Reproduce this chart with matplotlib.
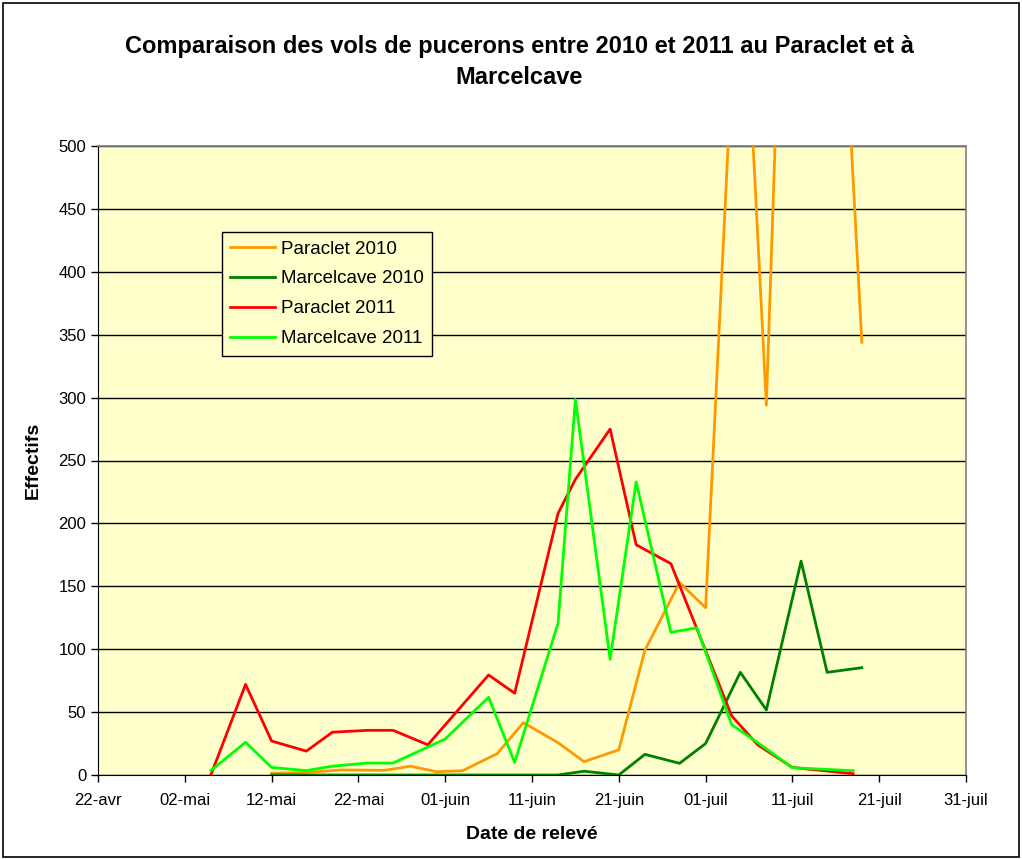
import matplotlib
matplotlib.use("Agg")
import matplotlib.pyplot as plt
import matplotlib.patches as mpatches
import pandas as pd

plt.rcParams['font.family'] = ['Liberation Sans', 'DejaVu Sans']

# ---- data (dates shown on a common calendar axis) ----
paraclet_2010_dates = ["05-12", "05-16", "05-20", "05-25", "05-28", "05-31", "06-03", "06-07",
                       "06-10", "06-14", "06-17", "06-21", "06-24", "06-28", "07-01", "07-05",
                       "07-08", "07-12", "07-15", "07-19"]
paraclet_2010 = [1.4, 2, 4, 3.7, 7, 2.6, 3.4, 17, 41.6, 25.7, 10.6, 20, 99, 153, 133, 700,
                 294, 1120, 860, 344]

marcelcave_2010_dates = ["05-12", "05-16", "05-20", "05-25", "05-28", "05-31", "06-03", "06-07",
                         "06-10", "06-14", "06-17", "06-21", "06-24", "06-28", "07-01", "07-05",
                         "07-08", "07-12", "07-15", "07-19"]
marcelcave_2010 = [0, 0, 0, 0, 0, 0, 0, 0, 0, 0, 3, 0, 16.4, 9.3, 25, 81.6, 51.7, 170, 81.6, 85.3]

paraclet_2011_dates = ["05-05", "05-09", "05-12", "05-16", "05-19", "05-23", "05-26", "05-30",
                       "06-06", "06-09", "06-14", "06-16", "06-20", "06-23", "06-27", "07-04",
                       "07-07", "07-11", "07-18"]
paraclet_2011 = [0, 72, 27, 19, 34, 35.5, 35.5, 24, 79.5, 65, 208, 235, 275, 183, 168, 47,
                 24, 6, 1]

marcelcave_2011_dates = ["05-05", "05-09", "05-12", "05-16", "05-19", "05-23", "05-26", "06-01",
                         "06-06", "06-09", "06-14", "06-16", "06-20", "06-23", "06-27", "06-30",
                         "07-04", "07-07", "07-11", "07-18"]
marcelcave_2011 = [3.5, 26, 6, 3.5, 7, 9.5, 9.5, 28.6, 61.8, 10, 120.6, 298.6, 92, 233, 113.4,
                   117, 40, 25.7, 5.8, 3.4]

series_names = ["Paraclet 2010", "Marcelcave 2010", "Paraclet 2011", "Marcelcave 2011"]
series_colors = ["#FF9900", "#008000", "#FF0000", "#00FF00"]

tick_dates = ["04-22", "05-02", "05-12", "05-22", "06-01", "06-11", "06-21", "07-01",
              "07-11", "07-21", "07-31"]
tick_labels = ["22-avr", "02-mai", "12-mai", "22-mai", "01-juin", "11-juin", "21-juin",
               "01-juil", "11-juil", "21-juil", "31-juil"]
y_ticks = [0, 50, 100, 150, 200, 250, 300, 350, 400, 450, 500]


def to_dt(lst):
    return pd.to_datetime(["2011-" + s for s in lst])


fig = plt.figure(figsize=(10.22, 8.59), dpi=100)
fig.patch.set_facecolor("white")
ax = fig.add_axes([98 / 1022, 1 - 775 / 859, (966 - 98) / 1022, (775 - 146) / 859])
ax.set_facecolor("#FFFFCC")

all_dates = [paraclet_2010_dates, marcelcave_2010_dates, paraclet_2011_dates, marcelcave_2011_dates]
all_vals = [paraclet_2010, marcelcave_2010, paraclet_2011, marcelcave_2011]
for d, v, name, col in zip(all_dates, all_vals, series_names, series_colors):
    ax.plot(to_dt(d), v, color=col, lw=2.0, label=name, zorder=3)

xt = to_dt(tick_dates)
ax.set_xlim(xt[0], xt[-1])
ax.set_xticks(xt)
ax.set_xticklabels(tick_labels)
ax.set_ylim(0, 500)
ax.set_yticks(y_ticks)
ax.yaxis.grid(True, color="#000000", lw=1.0, zorder=1)
ax.set_axisbelow(True)
for s in ["top", "right"]:
    ax.spines[s].set_color("#808080")
    ax.spines[s].set_linewidth(1.2)
ax.spines["left"].set_color("#000000")
ax.spines["bottom"].set_color("#000000")
ax.tick_params(axis="both", labelsize=12, length=5, width=1, color="black")
ax.tick_params(axis="x", pad=8)

ax.set_ylabel("Effectifs", fontsize=14, fontweight="bold", labelpad=12)
ax.set_xlabel("Date de relevé", fontsize=14, fontweight="bold", labelpad=13)

fig.text(0.508, 1 - 46 / 859, "Comparaison des vols de pucerons entre 2010 et 2011 au Paraclet et à",
         ha="center", va="center", fontsize=17, fontweight="bold")
fig.text(0.508, 1 - 77 / 859, "Marcelcave", ha="center", va="center", fontsize=17, fontweight="bold")

leg = ax.legend(loc="upper left", bbox_to_anchor=((222 - 98) / 868, (775 - 232) / 629),
                borderaxespad=0, fontsize=13.5, frameon=True, fancybox=False,
                facecolor="#FFFFCC", edgecolor="black", framealpha=1,
                handlelength=2.4, labelspacing=0.68, borderpad=0.45, handletextpad=0.3)
leg.get_frame().set_linewidth(1.0)
leg.set_zorder(5)

fig.patches.append(mpatches.Rectangle((0.003, 0.002), 0.994, 0.995, transform=fig.transFigure,
                                      fill=False, edgecolor="black", lw=1.2))

fig.savefig("out.png", dpi=100)
